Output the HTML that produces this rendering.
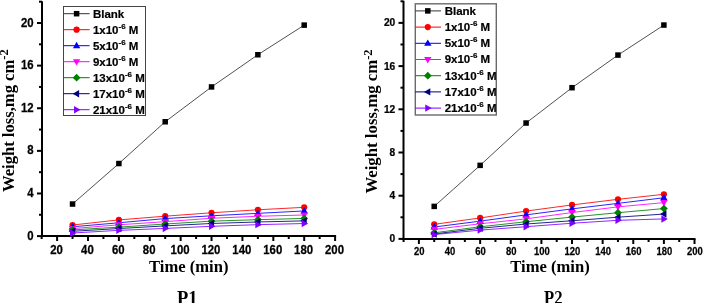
<!DOCTYPE html>
<html><head><meta charset="utf-8"><style>
html,body{margin:0;padding:0;background:#fff;width:703px;height:303px;overflow:hidden;}
svg{display:block;will-change:transform;}
</style></head><body>
<svg width="703" height="303" viewBox="0 0 703 303">
<style>
.tl { font-family: "Liberation Sans", sans-serif; font-weight: bold; font-size: 11.5px; fill: #000; stroke:#000; stroke-width:0.25px; }
.lg { font-family: "Liberation Sans", sans-serif; font-weight: bold; font-size: 11.5px; fill: #000; stroke:#000; stroke-width:0.2px; }
.lg .sup { font-size: 8px; }
.at { font-family: "Liberation Serif", serif; font-weight: bold; font-size: 16.6px; fill: #000; }
.sup2 { font-size: 12.5px; }
</style>
<rect width="703" height="303" fill="#fff"/>
<line x1="42" y1="1.19" x2="42" y2="237.00" stroke="#000" stroke-width="2"/>
<line x1="41.00" y1="236" x2="336.09" y2="236" stroke="#000" stroke-width="2"/>
<line x1="37.00" y1="236.10" x2="42.00" y2="236.10" stroke="#000" stroke-width="2"/>
<text class="tl" transform="translate(33.60,239.60) scale(0.95,1)" style="font-size:12px" text-anchor="end">0</text>
<line x1="39.00" y1="214.79" x2="42.00" y2="214.79" stroke="#000" stroke-width="2"/>
<line x1="37.00" y1="193.48" x2="42.00" y2="193.48" stroke="#000" stroke-width="2"/>
<text class="tl" transform="translate(33.60,196.98) scale(0.95,1)" style="font-size:12px" text-anchor="end">4</text>
<line x1="39.00" y1="172.17" x2="42.00" y2="172.17" stroke="#000" stroke-width="2"/>
<line x1="37.00" y1="150.86" x2="42.00" y2="150.86" stroke="#000" stroke-width="2"/>
<text class="tl" transform="translate(33.60,154.36) scale(0.95,1)" style="font-size:12px" text-anchor="end">8</text>
<line x1="39.00" y1="129.55" x2="42.00" y2="129.55" stroke="#000" stroke-width="2"/>
<line x1="37.00" y1="108.24" x2="42.00" y2="108.24" stroke="#000" stroke-width="2"/>
<text class="tl" transform="translate(33.60,111.74) scale(0.95,1)" style="font-size:12px" text-anchor="end">12</text>
<line x1="39.00" y1="86.93" x2="42.00" y2="86.93" stroke="#000" stroke-width="2"/>
<line x1="37.00" y1="65.62" x2="42.00" y2="65.62" stroke="#000" stroke-width="2"/>
<text class="tl" transform="translate(33.60,69.12) scale(0.95,1)" style="font-size:12px" text-anchor="end">16</text>
<line x1="39.00" y1="44.31" x2="42.00" y2="44.31" stroke="#000" stroke-width="2"/>
<line x1="37.00" y1="23.00" x2="42.00" y2="23.00" stroke="#000" stroke-width="2"/>
<text class="tl" transform="translate(33.60,26.50) scale(0.95,1)" style="font-size:12px" text-anchor="end">20</text>
<line x1="39.00" y1="1.69" x2="42.00" y2="1.69" stroke="#000" stroke-width="2"/>
<line x1="41.66" y1="236.00" x2="41.66" y2="239.00" stroke="#000" stroke-width="2"/>
<line x1="57.10" y1="236.00" x2="57.10" y2="241.00" stroke="#000" stroke-width="2"/>
<text class="tl" transform="translate(56.50,253.50) scale(0.95,1)" style="font-size:12px" text-anchor="middle">20</text>
<line x1="72.54" y1="236.00" x2="72.54" y2="239.00" stroke="#000" stroke-width="2"/>
<line x1="87.99" y1="236.00" x2="87.99" y2="241.00" stroke="#000" stroke-width="2"/>
<text class="tl" transform="translate(87.39,253.50) scale(0.95,1)" style="font-size:12px" text-anchor="middle">40</text>
<line x1="103.43" y1="236.00" x2="103.43" y2="239.00" stroke="#000" stroke-width="2"/>
<line x1="118.88" y1="236.00" x2="118.88" y2="241.00" stroke="#000" stroke-width="2"/>
<text class="tl" transform="translate(118.28,253.50) scale(0.95,1)" style="font-size:12px" text-anchor="middle">60</text>
<line x1="134.32" y1="236.00" x2="134.32" y2="239.00" stroke="#000" stroke-width="2"/>
<line x1="149.76" y1="236.00" x2="149.76" y2="241.00" stroke="#000" stroke-width="2"/>
<text class="tl" transform="translate(149.16,253.50) scale(0.95,1)" style="font-size:12px" text-anchor="middle">80</text>
<line x1="165.21" y1="236.00" x2="165.21" y2="239.00" stroke="#000" stroke-width="2"/>
<line x1="180.65" y1="236.00" x2="180.65" y2="241.00" stroke="#000" stroke-width="2"/>
<text class="tl" transform="translate(180.05,253.50) scale(0.95,1)" style="font-size:12px" text-anchor="middle">100</text>
<line x1="196.10" y1="236.00" x2="196.10" y2="239.00" stroke="#000" stroke-width="2"/>
<line x1="211.54" y1="236.00" x2="211.54" y2="241.00" stroke="#000" stroke-width="2"/>
<text class="tl" transform="translate(210.94,253.50) scale(0.95,1)" style="font-size:12px" text-anchor="middle">120</text>
<line x1="226.98" y1="236.00" x2="226.98" y2="239.00" stroke="#000" stroke-width="2"/>
<line x1="242.43" y1="236.00" x2="242.43" y2="241.00" stroke="#000" stroke-width="2"/>
<text class="tl" transform="translate(241.83,253.50) scale(0.95,1)" style="font-size:12px" text-anchor="middle">140</text>
<line x1="257.87" y1="236.00" x2="257.87" y2="239.00" stroke="#000" stroke-width="2"/>
<line x1="273.32" y1="236.00" x2="273.32" y2="241.00" stroke="#000" stroke-width="2"/>
<text class="tl" transform="translate(272.72,253.50) scale(0.95,1)" style="font-size:12px" text-anchor="middle">160</text>
<line x1="288.76" y1="236.00" x2="288.76" y2="239.00" stroke="#000" stroke-width="2"/>
<line x1="304.20" y1="236.00" x2="304.20" y2="241.00" stroke="#000" stroke-width="2"/>
<text class="tl" transform="translate(303.60,253.50) scale(0.95,1)" style="font-size:12px" text-anchor="middle">180</text>
<line x1="319.65" y1="236.00" x2="319.65" y2="239.00" stroke="#000" stroke-width="2"/>
<line x1="335.09" y1="236.00" x2="335.09" y2="241.00" stroke="#000" stroke-width="2"/>
<text class="tl" transform="translate(334.49,253.50) scale(0.95,1)" style="font-size:12px" text-anchor="middle">200</text>
<polyline points="72.54,233.01 118.88,230.35 165.21,228.43 211.54,226.30 257.87,224.65 304.20,223.53" fill="none" stroke="#8000ff" stroke-width="1" stroke-opacity="0.85"/>
<polyline points="72.54,231.31 118.88,228.53 165.21,225.89 211.54,223.47 257.87,221.98 304.20,220.86" fill="none" stroke="#000080" stroke-width="1" stroke-opacity="0.85"/>
<polyline points="72.54,229.92 118.88,227.15 165.21,224.01 211.54,221.13 257.87,219.69 304.20,218.41" fill="none" stroke="#008000" stroke-width="1" stroke-opacity="0.85"/>
<polyline points="72.54,228.58 118.88,224.81 165.21,221.66 211.54,218.25 257.87,216.28 304.20,215.00" fill="none" stroke="#ff00ff" stroke-width="1" stroke-opacity="0.85"/>
<polyline points="72.54,226.79 118.88,222.78 165.21,218.57 211.54,215.80 257.87,213.35 304.20,210.95" fill="none" stroke="#0000ff" stroke-width="1" stroke-opacity="0.85"/>
<polyline points="72.54,225.02 118.88,219.90 165.21,216.18 211.54,212.77 257.87,209.78 304.20,207.33" fill="none" stroke="#ff0000" stroke-width="1" stroke-opacity="0.85"/>
<polyline points="72.54,204.03 118.88,163.54 165.21,121.77 211.54,86.93 257.87,54.75 304.20,25.13" fill="none" stroke="#333333" stroke-width="1" stroke-opacity="0.85"/>
<rect x="69.79" y="201.28" width="5.50" height="5.50" fill="#000000"/>
<rect x="116.13" y="160.79" width="5.50" height="5.50" fill="#000000"/>
<rect x="162.46" y="119.02" width="5.50" height="5.50" fill="#000000"/>
<rect x="208.79" y="84.18" width="5.50" height="5.50" fill="#000000"/>
<rect x="255.12" y="52.00" width="5.50" height="5.50" fill="#000000"/>
<rect x="301.45" y="22.38" width="5.50" height="5.50" fill="#000000"/>
<circle cx="72.54" cy="225.02" r="3.10" fill="#ff0000"/>
<circle cx="118.88" cy="219.90" r="3.10" fill="#ff0000"/>
<circle cx="165.21" cy="216.18" r="3.10" fill="#ff0000"/>
<circle cx="211.54" cy="212.77" r="3.10" fill="#ff0000"/>
<circle cx="257.87" cy="209.78" r="3.10" fill="#ff0000"/>
<circle cx="304.20" cy="207.33" r="3.10" fill="#ff0000"/>
<polygon points="72.54,222.89 76.25,229.32 68.84,229.32" fill="#0000ff"/>
<polygon points="118.88,218.88 122.58,225.32 115.17,225.32" fill="#0000ff"/>
<polygon points="165.21,214.67 168.91,221.11 161.50,221.11" fill="#0000ff"/>
<polygon points="211.54,211.90 215.25,218.34 207.83,218.34" fill="#0000ff"/>
<polygon points="257.87,209.45 261.58,215.89 254.17,215.89" fill="#0000ff"/>
<polygon points="304.20,207.05 307.91,213.49 300.50,213.49" fill="#0000ff"/>
<polygon points="72.54,232.48 76.25,226.04 68.84,226.04" fill="#ff00ff"/>
<polygon points="118.88,228.71 122.58,222.27 115.17,222.27" fill="#ff00ff"/>
<polygon points="165.21,225.56 168.91,219.13 161.50,219.13" fill="#ff00ff"/>
<polygon points="211.54,222.15 215.25,215.72 207.83,215.72" fill="#ff00ff"/>
<polygon points="257.87,220.18 261.58,213.75 254.17,213.75" fill="#ff00ff"/>
<polygon points="304.20,218.90 307.91,212.47 300.50,212.47" fill="#ff00ff"/>
<polygon points="72.54,226.02 76.44,229.92 72.54,233.82 68.64,229.92" fill="#008000"/>
<polygon points="118.88,223.25 122.78,227.15 118.88,231.05 114.98,227.15" fill="#008000"/>
<polygon points="165.21,220.11 169.11,224.01 165.21,227.91 161.31,224.01" fill="#008000"/>
<polygon points="211.54,217.23 215.44,221.13 211.54,225.03 207.64,221.13" fill="#008000"/>
<polygon points="257.87,215.79 261.77,219.69 257.87,223.59 253.97,219.69" fill="#008000"/>
<polygon points="304.20,214.51 308.10,218.41 304.20,222.31 300.30,218.41" fill="#008000"/>
<polygon points="68.64,231.31 75.08,227.60 75.08,235.01" fill="#000080"/>
<polygon points="114.98,228.53 121.41,224.83 121.41,232.24" fill="#000080"/>
<polygon points="161.31,225.89 167.74,222.19 167.74,229.60" fill="#000080"/>
<polygon points="207.64,223.47 214.07,219.77 214.07,227.18" fill="#000080"/>
<polygon points="253.97,221.98 260.41,218.28 260.41,225.69" fill="#000080"/>
<polygon points="300.30,220.86 306.74,217.16 306.74,224.57" fill="#000080"/>
<polygon points="76.44,233.01 70.01,229.31 70.01,236.72" fill="#8000ff"/>
<polygon points="122.78,230.35 116.34,226.64 116.34,234.05" fill="#8000ff"/>
<polygon points="169.11,228.43 162.67,224.72 162.67,232.13" fill="#8000ff"/>
<polygon points="215.44,226.30 209.00,222.59 209.00,230.00" fill="#8000ff"/>
<polygon points="261.77,224.65 255.34,220.94 255.34,228.35" fill="#8000ff"/>
<polygon points="308.10,223.53 301.67,219.82 301.67,227.23" fill="#8000ff"/>
<rect x="63.5" y="6.5" width="82.0" height="109.0" fill="#fff" stroke="#444" stroke-width="1"/>
<line x1="63.5" y1="13.70" x2="89.6" y2="13.70" stroke="#333333" stroke-width="1"/>
<rect x="73.85" y="10.95" width="5.50" height="5.50" fill="#000000"/>
<text class="lg" x="92.9" y="17.50">Blank</text>
<line x1="63.5" y1="29.70" x2="89.6" y2="29.70" stroke="#ff0000" stroke-width="1"/>
<circle cx="76.60" cy="29.70" r="3.10" fill="#ff0000"/>
<text class="lg" x="92.9" y="33.50">1x10<tspan class="sup" dy="-5">-6</tspan><tspan dy="5"> M</tspan></text>
<line x1="63.5" y1="45.70" x2="89.6" y2="45.70" stroke="#0000ff" stroke-width="1"/>
<polygon points="76.60,41.80 80.30,48.23 72.89,48.23" fill="#0000ff"/>
<text class="lg" x="92.9" y="49.50">5x10<tspan class="sup" dy="-5">-6</tspan><tspan dy="5"> M</tspan></text>
<line x1="63.5" y1="61.70" x2="89.6" y2="61.70" stroke="#ff00ff" stroke-width="1"/>
<polygon points="76.60,65.60 80.30,59.17 72.89,59.17" fill="#ff00ff"/>
<text class="lg" x="92.9" y="65.50">9x10<tspan class="sup" dy="-5">-6</tspan><tspan dy="5"> M</tspan></text>
<line x1="63.5" y1="77.70" x2="89.6" y2="77.70" stroke="#008000" stroke-width="1"/>
<polygon points="76.60,73.80 80.50,77.70 76.60,81.60 72.70,77.70" fill="#008000"/>
<text class="lg" x="92.9" y="81.50">13x10<tspan class="sup" dy="-5">-6</tspan><tspan dy="5"> M</tspan></text>
<line x1="63.5" y1="93.70" x2="89.6" y2="93.70" stroke="#000080" stroke-width="1"/>
<polygon points="72.70,93.70 79.13,90.00 79.13,97.41" fill="#000080"/>
<text class="lg" x="92.9" y="97.50">17x10<tspan class="sup" dy="-5">-6</tspan><tspan dy="5"> M</tspan></text>
<line x1="63.5" y1="109.70" x2="89.6" y2="109.70" stroke="#8000ff" stroke-width="1"/>
<polygon points="80.50,109.70 74.06,106.00 74.06,113.41" fill="#8000ff"/>
<text class="lg" x="92.9" y="113.50">21x10<tspan class="sup" dy="-5">-6</tspan><tspan dy="5"> M</tspan></text>
<text class="at" x="149.0" y="271.9">Time (min)</text>
<text class="at" style="font-size:16.6px" transform="translate(13.8,192) rotate(-90)">Weight loss,mg cm<tspan class="sup2" dy="-5.5">-2</tspan></text>
<text class="at" transform="translate(177.0,304.0) scale(1.0,1)" style="font-size:18.5px">P1</text>
<line x1="403.5" y1="0.80" x2="403.5" y2="240.00" stroke="#000" stroke-width="2"/>
<line x1="402.50" y1="239" x2="695.52" y2="239" stroke="#000" stroke-width="2"/>
<line x1="398.50" y1="238.90" x2="403.50" y2="238.90" stroke="#000" stroke-width="2"/>
<text class="tl" transform="translate(395.30,242.40) scale(0.93,1)" style="font-size:11px" text-anchor="end">0</text>
<line x1="400.50" y1="217.30" x2="403.50" y2="217.30" stroke="#000" stroke-width="2"/>
<line x1="398.50" y1="195.70" x2="403.50" y2="195.70" stroke="#000" stroke-width="2"/>
<text class="tl" transform="translate(395.30,199.20) scale(0.93,1)" style="font-size:11px" text-anchor="end">4</text>
<line x1="400.50" y1="174.10" x2="403.50" y2="174.10" stroke="#000" stroke-width="2"/>
<line x1="398.50" y1="152.50" x2="403.50" y2="152.50" stroke="#000" stroke-width="2"/>
<text class="tl" transform="translate(395.30,156.00) scale(0.93,1)" style="font-size:11px" text-anchor="end">8</text>
<line x1="400.50" y1="130.90" x2="403.50" y2="130.90" stroke="#000" stroke-width="2"/>
<line x1="398.50" y1="109.30" x2="403.50" y2="109.30" stroke="#000" stroke-width="2"/>
<text class="tl" transform="translate(395.30,112.80) scale(0.93,1)" style="font-size:11px" text-anchor="end">12</text>
<line x1="400.50" y1="87.70" x2="403.50" y2="87.70" stroke="#000" stroke-width="2"/>
<line x1="398.50" y1="66.10" x2="403.50" y2="66.10" stroke="#000" stroke-width="2"/>
<text class="tl" transform="translate(395.30,69.60) scale(0.93,1)" style="font-size:11px" text-anchor="end">16</text>
<line x1="400.50" y1="44.50" x2="403.50" y2="44.50" stroke="#000" stroke-width="2"/>
<line x1="398.50" y1="22.90" x2="403.50" y2="22.90" stroke="#000" stroke-width="2"/>
<text class="tl" transform="translate(395.30,26.40) scale(0.93,1)" style="font-size:11px" text-anchor="end">20</text>
<line x1="400.50" y1="1.30" x2="403.50" y2="1.30" stroke="#000" stroke-width="2"/>
<line x1="403.59" y1="239.00" x2="403.59" y2="242.00" stroke="#000" stroke-width="2"/>
<line x1="418.90" y1="239.00" x2="418.90" y2="244.00" stroke="#000" stroke-width="2"/>
<text class="tl" transform="translate(419.30,254.70) scale(0.86,1)" style="font-size:11px" text-anchor="middle">20</text>
<line x1="434.21" y1="239.00" x2="434.21" y2="242.00" stroke="#000" stroke-width="2"/>
<line x1="449.52" y1="239.00" x2="449.52" y2="244.00" stroke="#000" stroke-width="2"/>
<text class="tl" transform="translate(449.92,254.70) scale(0.86,1)" style="font-size:11px" text-anchor="middle">40</text>
<line x1="464.84" y1="239.00" x2="464.84" y2="242.00" stroke="#000" stroke-width="2"/>
<line x1="480.15" y1="239.00" x2="480.15" y2="244.00" stroke="#000" stroke-width="2"/>
<text class="tl" transform="translate(480.55,254.70) scale(0.86,1)" style="font-size:11px" text-anchor="middle">60</text>
<line x1="495.46" y1="239.00" x2="495.46" y2="242.00" stroke="#000" stroke-width="2"/>
<line x1="510.77" y1="239.00" x2="510.77" y2="244.00" stroke="#000" stroke-width="2"/>
<text class="tl" transform="translate(511.17,254.70) scale(0.86,1)" style="font-size:11px" text-anchor="middle">80</text>
<line x1="526.09" y1="239.00" x2="526.09" y2="242.00" stroke="#000" stroke-width="2"/>
<line x1="541.40" y1="239.00" x2="541.40" y2="244.00" stroke="#000" stroke-width="2"/>
<text class="tl" transform="translate(541.80,254.70) scale(0.86,1)" style="font-size:11px" text-anchor="middle">100</text>
<line x1="556.71" y1="239.00" x2="556.71" y2="242.00" stroke="#000" stroke-width="2"/>
<line x1="572.02" y1="239.00" x2="572.02" y2="244.00" stroke="#000" stroke-width="2"/>
<text class="tl" transform="translate(572.42,254.70) scale(0.86,1)" style="font-size:11px" text-anchor="middle">120</text>
<line x1="587.34" y1="239.00" x2="587.34" y2="242.00" stroke="#000" stroke-width="2"/>
<line x1="602.65" y1="239.00" x2="602.65" y2="244.00" stroke="#000" stroke-width="2"/>
<text class="tl" transform="translate(603.05,254.70) scale(0.86,1)" style="font-size:11px" text-anchor="middle">140</text>
<line x1="617.96" y1="239.00" x2="617.96" y2="242.00" stroke="#000" stroke-width="2"/>
<line x1="633.27" y1="239.00" x2="633.27" y2="244.00" stroke="#000" stroke-width="2"/>
<text class="tl" transform="translate(633.67,254.70) scale(0.86,1)" style="font-size:11px" text-anchor="middle">160</text>
<line x1="648.59" y1="239.00" x2="648.59" y2="242.00" stroke="#000" stroke-width="2"/>
<line x1="663.90" y1="239.00" x2="663.90" y2="244.00" stroke="#000" stroke-width="2"/>
<text class="tl" transform="translate(664.30,254.70) scale(0.86,1)" style="font-size:11px" text-anchor="middle">180</text>
<line x1="679.21" y1="239.00" x2="679.21" y2="242.00" stroke="#000" stroke-width="2"/>
<line x1="694.52" y1="239.00" x2="694.52" y2="244.00" stroke="#000" stroke-width="2"/>
<text class="tl" transform="translate(694.92,254.70) scale(0.86,1)" style="font-size:11px" text-anchor="middle">200</text>
<polyline points="434.21,234.58 480.15,230.10 526.09,226.70 572.02,223.24 617.96,220.32 663.90,218.92" fill="none" stroke="#8000ff" stroke-width="1" stroke-opacity="0.85"/>
<polyline points="434.21,233.93 480.15,228.32 526.09,224.00 572.02,220.76 617.96,217.19 663.90,214.06" fill="none" stroke="#000080" stroke-width="1" stroke-opacity="0.85"/>
<polyline points="434.21,232.79 480.15,226.80 526.09,221.73 572.02,217.08 617.96,212.71 663.90,208.55" fill="none" stroke="#008000" stroke-width="1" stroke-opacity="0.85"/>
<polyline points="434.21,229.40 480.15,223.78 526.09,218.87 572.02,212.55 617.96,206.88 663.90,202.61" fill="none" stroke="#ff00ff" stroke-width="1" stroke-opacity="0.85"/>
<polyline points="434.21,227.02 480.15,221.13 526.09,214.87 572.02,208.88 617.96,203.37 663.90,197.75" fill="none" stroke="#0000ff" stroke-width="1" stroke-opacity="0.85"/>
<polyline points="434.21,224.32 480.15,217.95 526.09,211.09 572.02,204.93 617.96,199.32 663.90,194.30" fill="none" stroke="#ff0000" stroke-width="1" stroke-opacity="0.85"/>
<polyline points="434.21,206.39 480.15,165.35 526.09,123.02 572.02,87.70 617.96,55.08 663.90,25.06" fill="none" stroke="#333333" stroke-width="1" stroke-opacity="0.85"/>
<rect x="431.46" y="203.64" width="5.50" height="5.50" fill="#000000"/>
<rect x="477.40" y="162.60" width="5.50" height="5.50" fill="#000000"/>
<rect x="523.34" y="120.27" width="5.50" height="5.50" fill="#000000"/>
<rect x="569.27" y="84.95" width="5.50" height="5.50" fill="#000000"/>
<rect x="615.21" y="52.33" width="5.50" height="5.50" fill="#000000"/>
<rect x="661.15" y="22.31" width="5.50" height="5.50" fill="#000000"/>
<circle cx="434.21" cy="224.32" r="3.10" fill="#ff0000"/>
<circle cx="480.15" cy="217.95" r="3.10" fill="#ff0000"/>
<circle cx="526.09" cy="211.09" r="3.10" fill="#ff0000"/>
<circle cx="572.02" cy="204.93" r="3.10" fill="#ff0000"/>
<circle cx="617.96" cy="199.32" r="3.10" fill="#ff0000"/>
<circle cx="663.90" cy="194.30" r="3.10" fill="#ff0000"/>
<polygon points="434.21,223.12 437.92,229.56 430.51,229.56" fill="#0000ff"/>
<polygon points="480.15,217.23 483.85,223.67 476.44,223.67" fill="#0000ff"/>
<polygon points="526.09,210.97 529.79,217.41 522.38,217.41" fill="#0000ff"/>
<polygon points="572.02,204.98 575.73,211.41 568.32,211.41" fill="#0000ff"/>
<polygon points="617.96,199.47 621.67,205.90 614.26,205.90" fill="#0000ff"/>
<polygon points="663.90,193.85 667.61,200.29 660.19,200.29" fill="#0000ff"/>
<polygon points="434.21,233.30 437.92,226.86 430.51,226.86" fill="#ff00ff"/>
<polygon points="480.15,227.68 483.85,221.25 476.44,221.25" fill="#ff00ff"/>
<polygon points="526.09,222.77 529.79,216.33 522.38,216.33" fill="#ff00ff"/>
<polygon points="572.02,216.45 575.73,210.01 568.32,210.01" fill="#ff00ff"/>
<polygon points="617.96,210.78 621.67,204.34 614.26,204.34" fill="#ff00ff"/>
<polygon points="663.90,206.51 667.61,200.08 660.19,200.08" fill="#ff00ff"/>
<polygon points="434.21,228.89 438.11,232.79 434.21,236.69 430.31,232.79" fill="#008000"/>
<polygon points="480.15,222.90 484.05,226.80 480.15,230.70 476.25,226.80" fill="#008000"/>
<polygon points="526.09,217.83 529.99,221.73 526.09,225.63 522.19,221.73" fill="#008000"/>
<polygon points="572.02,213.18 575.92,217.08 572.02,220.98 568.12,217.08" fill="#008000"/>
<polygon points="617.96,208.81 621.86,212.71 617.96,216.61 614.06,212.71" fill="#008000"/>
<polygon points="663.90,204.65 667.80,208.55 663.90,212.45 660.00,208.55" fill="#008000"/>
<polygon points="430.31,233.93 436.75,230.23 436.75,237.64" fill="#000080"/>
<polygon points="476.25,228.32 482.69,224.61 482.69,232.02" fill="#000080"/>
<polygon points="522.19,224.00 528.62,220.29 528.62,227.70" fill="#000080"/>
<polygon points="568.12,220.76 574.56,217.05 574.56,224.46" fill="#000080"/>
<polygon points="614.06,217.19 620.50,213.49 620.50,220.90" fill="#000080"/>
<polygon points="660.00,214.06 666.43,210.35 666.43,217.77" fill="#000080"/>
<polygon points="438.11,234.58 431.68,230.88 431.68,238.29" fill="#8000ff"/>
<polygon points="484.05,230.10 477.61,226.39 477.61,233.80" fill="#8000ff"/>
<polygon points="529.99,226.70 523.55,222.99 523.55,230.40" fill="#8000ff"/>
<polygon points="575.92,223.24 569.49,219.53 569.49,226.95" fill="#8000ff"/>
<polygon points="621.86,220.32 615.43,216.62 615.43,224.03" fill="#8000ff"/>
<polygon points="667.80,218.92 661.37,215.22 661.37,222.63" fill="#8000ff"/>
<rect x="415.3" y="3.8" width="81.0" height="111.2" fill="#fff" stroke="#6a6a6a" stroke-width="1.4"/>
<line x1="415.3" y1="10.90" x2="441" y2="10.90" stroke="#333333" stroke-width="1"/>
<rect x="425.05" y="8.15" width="5.50" height="5.50" fill="#000000"/>
<text class="lg" x="444.7" y="14.70">Blank</text>
<line x1="415.3" y1="27.10" x2="441" y2="27.10" stroke="#ff0000" stroke-width="1"/>
<circle cx="427.80" cy="27.10" r="3.10" fill="#ff0000"/>
<text class="lg" x="444.7" y="30.90">1x10<tspan class="sup" dy="-5">-6</tspan><tspan dy="5"> M</tspan></text>
<line x1="415.3" y1="43.30" x2="441" y2="43.30" stroke="#0000ff" stroke-width="1"/>
<polygon points="427.80,39.40 431.50,45.83 424.10,45.83" fill="#0000ff"/>
<text class="lg" x="444.7" y="47.10">5x10<tspan class="sup" dy="-5">-6</tspan><tspan dy="5"> M</tspan></text>
<line x1="415.3" y1="59.50" x2="441" y2="59.50" stroke="#ff00ff" stroke-width="1"/>
<polygon points="427.80,63.40 431.50,56.96 424.10,56.96" fill="#ff00ff"/>
<text class="lg" x="444.7" y="63.30">9x10<tspan class="sup" dy="-5">-6</tspan><tspan dy="5"> M</tspan></text>
<line x1="415.3" y1="75.70" x2="441" y2="75.70" stroke="#008000" stroke-width="1"/>
<polygon points="427.80,71.80 431.70,75.70 427.80,79.60 423.90,75.70" fill="#008000"/>
<text class="lg" x="444.7" y="79.50">13x10<tspan class="sup" dy="-5">-6</tspan><tspan dy="5"> M</tspan></text>
<line x1="415.3" y1="91.90" x2="441" y2="91.90" stroke="#000080" stroke-width="1"/>
<polygon points="423.90,91.90 430.34,88.20 430.34,95.61" fill="#000080"/>
<text class="lg" x="444.7" y="95.70">17x10<tspan class="sup" dy="-5">-6</tspan><tspan dy="5"> M</tspan></text>
<line x1="415.3" y1="108.10" x2="441" y2="108.10" stroke="#8000ff" stroke-width="1"/>
<polygon points="431.70,108.10 425.26,104.39 425.26,111.80" fill="#8000ff"/>
<text class="lg" x="444.7" y="111.90">21x10<tspan class="sup" dy="-5">-6</tspan><tspan dy="5"> M</tspan></text>
<text class="at" x="510.3" y="271.9">Time (min)</text>
<text class="at" style="font-size:16.8px" transform="translate(377.0,193.6) rotate(-90)">Weight loss,mg cm<tspan class="sup2" dy="-5.5">-2</tspan></text>
<text class="at" transform="translate(544.0,304.0) scale(0.9,1)" style="font-size:18.5px">P2</text>
</svg>
</body></html>
